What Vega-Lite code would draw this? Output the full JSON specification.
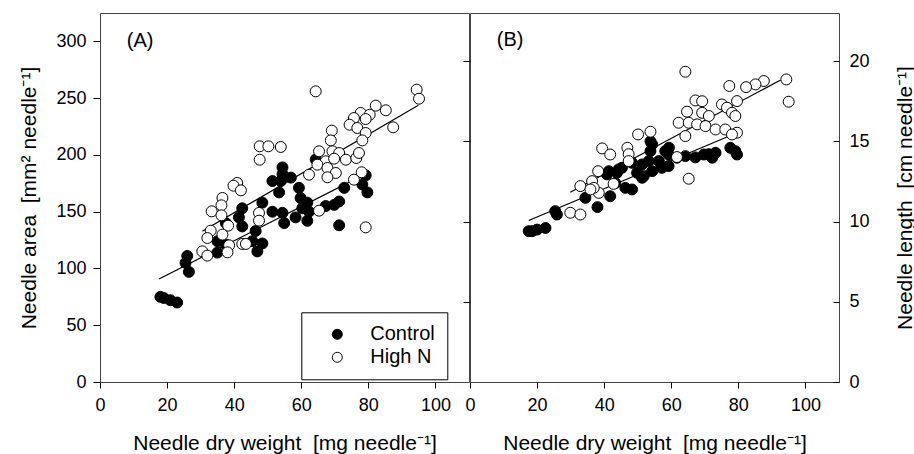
{
  "$schema": "https://vega.github.io/schema/vega-lite/v6.json",
  "bounds": "flush",
  "spacing": 1,
  "padding": {"left": 18, "top": 12, "right": 0, "bottom": 0},
  "background": "white",
  "datasets": {
    "pts": [
      {"p":"A","g":"Control","dw":18,"v":75},{"p":"A","g":"Control","dw":19,"v":74},{"p":"A","g":"Control","dw":21,"v":72},{"p":"A","g":"Control","dw":23,"v":70},
      {"p":"A","g":"Control","dw":26,"v":111},{"p":"A","g":"Control","dw":25.5,"v":105},{"p":"A","g":"Control","dw":26.5,"v":97},
      {"p":"A","g":"Control","dw":35,"v":124},{"p":"A","g":"Control","dw":35,"v":114},{"p":"A","g":"Control","dw":37.5,"v":121},{"p":"A","g":"Control","dw":37.5,"v":140},
      {"p":"A","g":"Control","dw":42.4,"v":153},{"p":"A","g":"Control","dw":41.4,"v":145},{"p":"A","g":"Control","dw":42.4,"v":137},
      {"p":"A","g":"Control","dw":48.4,"v":158},{"p":"A","g":"Control","dw":46.4,"v":133},{"p":"A","g":"Control","dw":45.4,"v":124},{"p":"A","g":"Control","dw":48.4,"v":122},{"p":"A","g":"Control","dw":46.9,"v":115},
      {"p":"A","g":"Control","dw":54.4,"v":189},{"p":"A","g":"Control","dw":54.4,"v":183},{"p":"A","g":"Control","dw":51.4,"v":177},{"p":"A","g":"Control","dw":53.9,"v":177},{"p":"A","g":"Control","dw":56.9,"v":180},{"p":"A","g":"Control","dw":53.4,"v":167},
      {"p":"A","g":"Control","dw":51.4,"v":150},{"p":"A","g":"Control","dw":54.4,"v":149},{"p":"A","g":"Control","dw":54.9,"v":140},{"p":"A","g":"Control","dw":58.3,"v":145},
      {"p":"A","g":"Control","dw":59.3,"v":171},{"p":"A","g":"Control","dw":59.8,"v":162},{"p":"A","g":"Control","dw":61.8,"v":158},{"p":"A","g":"Control","dw":60.3,"v":153},{"p":"A","g":"Control","dw":62.3,"v":150},{"p":"A","g":"Control","dw":61.8,"v":142},
      {"p":"A","g":"Control","dw":67.3,"v":155},{"p":"A","g":"Control","dw":69.8,"v":156},{"p":"A","g":"Control","dw":71.3,"v":159},{"p":"A","g":"Control","dw":72.8,"v":171},{"p":"A","g":"Control","dw":71.3,"v":138},
      {"p":"A","g":"Control","dw":79.2,"v":182},{"p":"A","g":"Control","dw":78.2,"v":174},{"p":"A","g":"Control","dw":79.7,"v":167},{"p":"A","g":"Control","dw":64.3,"v":196},
      {"p":"B","g":"Control","dw":17.5,"v":9.4},{"p":"B","g":"Control","dw":18.5,"v":9.4},{"p":"B","g":"Control","dw":20,"v":9.5},{"p":"B","g":"Control","dw":22.5,"v":9.6},
      {"p":"B","g":"Control","dw":25.4,"v":10.65},{"p":"B","g":"Control","dw":25.9,"v":10.44},
      {"p":"B","g":"Control","dw":34.4,"v":11.48},{"p":"B","g":"Control","dw":38,"v":10.9},
      {"p":"B","g":"Control","dw":41.8,"v":11.58},{"p":"B","g":"Control","dw":46.3,"v":12.1},{"p":"B","g":"Control","dw":48.3,"v":12},{"p":"B","g":"Control","dw":43.3,"v":12.4},
      {"p":"B","g":"Control","dw":40.8,"v":12.94},{"p":"B","g":"Control","dw":43.8,"v":13.04},{"p":"B","g":"Control","dw":45.3,"v":13.35},{"p":"B","g":"Control","dw":41.4,"v":13.14},{"p":"B","g":"Control","dw":44.3,"v":13.25},
      {"p":"B","g":"Control","dw":48.3,"v":13.66},{"p":"B","g":"Control","dw":51.3,"v":13.56},{"p":"B","g":"Control","dw":53.3,"v":13.77},{"p":"B","g":"Control","dw":54.3,"v":14.81},{"p":"B","g":"Control","dw":53.8,"v":14.39},{"p":"B","g":"Control","dw":53.8,"v":15.0},
      {"p":"B","g":"Control","dw":51.3,"v":12.73},{"p":"B","g":"Control","dw":54.3,"v":13.14},{"p":"B","g":"Control","dw":56.3,"v":13.77},{"p":"B","g":"Control","dw":58.2,"v":14.39},{"p":"B","g":"Control","dw":59.2,"v":14.18},{"p":"B","g":"Control","dw":59.3,"v":14.6},
      {"p":"B","g":"Control","dw":57.2,"v":13.35},{"p":"B","g":"Control","dw":59.2,"v":13.46},{"p":"B","g":"Control","dw":61.7,"v":13.98},{"p":"B","g":"Control","dw":49.8,"v":13.04},{"p":"B","g":"Control","dw":51.8,"v":12.83},
      {"p":"B","g":"Control","dw":64.2,"v":14.08},{"p":"B","g":"Control","dw":67.2,"v":14.0},{"p":"B","g":"Control","dw":69.7,"v":14.18},{"p":"B","g":"Control","dw":72.2,"v":13.98},{"p":"B","g":"Control","dw":73.2,"v":14.29},{"p":"B","g":"Control","dw":71.2,"v":14.2},
      {"p":"B","g":"Control","dw":77.6,"v":14.6},{"p":"B","g":"Control","dw":79.1,"v":14.39},{"p":"B","g":"Control","dw":79.6,"v":14.18},
      {"p":"A","g":"High N","dw":64.3,"v":256},{"p":"A","g":"High N","dw":94.4,"v":257.5},{"p":"A","g":"High N","dw":95.1,"v":249.5},{"p":"A","g":"High N","dw":82.2,"v":243.4},{"p":"A","g":"High N","dw":85.2,"v":239.3},
      {"p":"A","g":"High N","dw":77.7,"v":237},{"p":"A","g":"High N","dw":80.4,"v":235.4},{"p":"A","g":"High N","dw":79.2,"v":231.6},{"p":"A","g":"High N","dw":75.7,"v":232.5},{"p":"A","g":"High N","dw":74.4,"v":226.6},
      {"p":"A","g":"High N","dw":76.7,"v":223.7},{"p":"A","g":"High N","dw":79.2,"v":219.3},{"p":"A","g":"High N","dw":87.4,"v":224.3},{"p":"A","g":"High N","dw":78.2,"v":212.8},{"p":"A","g":"High N","dw":69.1,"v":221.4},
      {"p":"A","g":"High N","dw":68.8,"v":212.8},{"p":"A","g":"High N","dw":69.3,"v":203.2},{"p":"A","g":"High N","dw":65.3,"v":203.2},{"p":"A","g":"High N","dw":67.3,"v":194.4},{"p":"A","g":"High N","dw":71.3,"v":201.7},
      {"p":"A","g":"High N","dw":73.3,"v":195.8},{"p":"A","g":"High N","dw":76.4,"v":197.3},{"p":"A","g":"High N","dw":77.2,"v":201.7},{"p":"A","g":"High N","dw":69.8,"v":196.7},{"p":"A","g":"High N","dw":64.8,"v":191.4},
      {"p":"A","g":"High N","dw":67.8,"v":188.5},{"p":"A","g":"High N","dw":62.3,"v":182.6},{"p":"A","g":"High N","dw":70.3,"v":184.1},{"p":"A","g":"High N","dw":67.8,"v":180.3},{"p":"A","g":"High N","dw":78,"v":184.7},
      {"p":"A","g":"High N","dw":75.7,"v":178.2},{"p":"A","g":"High N","dw":47.6,"v":207.6},{"p":"A","g":"High N","dw":50.2,"v":207.6},{"p":"A","g":"High N","dw":53.9,"v":207},{"p":"A","g":"High N","dw":47.6,"v":195.8},
      {"p":"A","g":"High N","dw":40.9,"v":175.3},{"p":"A","g":"High N","dw":39.8,"v":172.9},{"p":"A","g":"High N","dw":42,"v":168.8},{"p":"A","g":"High N","dw":36.5,"v":162.1},{"p":"A","g":"High N","dw":36.2,"v":155.6},
      {"p":"A","g":"High N","dw":33.3,"v":150.3},{"p":"A","g":"High N","dw":36.2,"v":146.8},{"p":"A","g":"High N","dw":38.2,"v":137.7},{"p":"A","g":"High N","dw":33,"v":133.3},{"p":"A","g":"High N","dw":36.5,"v":129.8},
      {"p":"A","g":"High N","dw":32,"v":126.8},{"p":"A","g":"High N","dw":30.5,"v":115.1},{"p":"A","g":"High N","dw":32,"v":111.3},{"p":"A","g":"High N","dw":38.5,"v":120.4},{"p":"A","g":"High N","dw":38,"v":114.2},
      {"p":"A","g":"High N","dw":42.4,"v":121.6},{"p":"A","g":"High N","dw":43.5,"v":121.6},{"p":"A","g":"High N","dw":47.4,"v":148.9},{"p":"A","g":"High N","dw":47.4,"v":142.1},{"p":"A","g":"High N","dw":65.3,"v":150.9},
      {"p":"A","g":"High N","dw":79.2,"v":136.2},
      {"p":"B","g":"High N","dw":64.2,"v":19.34},{"p":"B","g":"High N","dw":94.3,"v":18.86},{"p":"B","g":"High N","dw":95,"v":17.47},{"p":"B","g":"High N","dw":87.6,"v":18.76},{"p":"B","g":"High N","dw":85.1,"v":18.55},
      {"p":"B","g":"High N","dw":82.3,"v":18.38},{"p":"B","g":"High N","dw":77.3,"v":18.45},{"p":"B","g":"High N","dw":79.6,"v":17.51},{"p":"B","g":"High N","dw":75.1,"v":17.3},{"p":"B","g":"High N","dw":76.6,"v":17.1},
      {"p":"B","g":"High N","dw":78.1,"v":16.78},{"p":"B","g":"High N","dw":79.1,"v":16.58},{"p":"B","g":"High N","dw":67.2,"v":17.55},{"p":"B","g":"High N","dw":69.2,"v":17.5},{"p":"B","g":"High N","dw":64.7,"v":16.85},
      {"p":"B","g":"High N","dw":69.2,"v":16.78},{"p":"B","g":"High N","dw":71.2,"v":16.58},{"p":"B","g":"High N","dw":62.2,"v":16.16},{"p":"B","g":"High N","dw":65.2,"v":16.16},{"p":"B","g":"High N","dw":67.7,"v":16.06},
      {"p":"B","g":"High N","dw":64.2,"v":15.33},{"p":"B","g":"High N","dw":70.2,"v":15.95},{"p":"B","g":"High N","dw":73.2,"v":15.74},{"p":"B","g":"High N","dw":76.1,"v":15.74},{"p":"B","g":"High N","dw":79.6,"v":15.54},
      {"p":"B","g":"High N","dw":78.1,"v":15.43},{"p":"B","g":"High N","dw":53.8,"v":15.6},{"p":"B","g":"High N","dw":50.1,"v":15.43},{"p":"B","g":"High N","dw":46.9,"v":14.6},{"p":"B","g":"High N","dw":39.4,"v":14.56},
      {"p":"B","g":"High N","dw":41.8,"v":14.18},{"p":"B","g":"High N","dw":47.3,"v":14.2},{"p":"B","g":"High N","dw":47.3,"v":13.77},{"p":"B","g":"High N","dw":61.7,"v":14.02},{"p":"B","g":"High N","dw":65.2,"v":12.67},
      {"p":"B","g":"High N","dw":38.2,"v":13.14},{"p":"B","g":"High N","dw":36.4,"v":12.52},{"p":"B","g":"High N","dw":32.9,"v":12.21},{"p":"B","g":"High N","dw":38.4,"v":11.79},{"p":"B","g":"High N","dw":42.8,"v":12.35},
      {"p":"B","g":"High N","dw":29.9,"v":10.55},{"p":"B","g":"High N","dw":32.9,"v":10.44},{"p":"B","g":"High N","dw":36.9,"v":12.1},{"p":"B","g":"High N","dw":35.9,"v":12.0}
    ],
    "fits": [
      {"p":"A","g":"Control","dw":17.6,"v":90.7},{"p":"A","g":"Control","dw":77.7,"v":181.1},
      {"p":"A","g":"High N","dw":30.5,"v":132.7},{"p":"A","g":"High N","dw":94.9,"v":243.7},
      {"p":"B","g":"Control","dw":17.5,"v":10.07},{"p":"B","g":"Control","dw":77.3,"v":15.33},
      {"p":"B","g":"High N","dw":29.9,"v":11.83},{"p":"B","g":"High N","dw":92.6,"v":18.82}
    ],
    "tags": [
      {"p":"A","t":"(A)","dw":8,"v":300},
      {"p":"B","t":"(B)","dw":8,"v":21.3}
    ]
  },
  "hconcat": [
    {
      "width": 369,
      "height": 369,
      "layer": [
        {
          "data": {"name": "fits"},
          "transform": [{"filter": "datum.p === 'A'"}],
          "mark": {"type": "line", "color": "black", "strokeWidth": 1.2},
          "encoding": {
            "x": {"field": "dw", "type": "quantitative", "title": "Needle dry weight\u00a0 [mg needle⁻¹]",
                  "scale": {"domain": [0, 110], "nice": false, "zero": false},
                  "axis": {"values": [0, 20, 40, 60, 80, 100], "tickSize": 6, "labelPadding": 8, "titlePadding": 18}},
            "y": {"field": "v", "type": "quantitative", "title": "Needle area\u00a0 [mm² needle⁻¹]",
                  "scale": {"domain": [0, 325], "nice": false, "zero": false},
                  "axis": {"values": [0, 50, 100, 150, 200, 250, 300], "tickSize": 7, "labelPadding": 7, "titlePadding": 16}},
            "detail": {"field": "g"}
          }
        },
        {
          "data": {"name": "pts"},
          "transform": [{"filter": "datum.p === 'A'"}],
          "mark": {"type": "point", "shape": "circle", "filled": true, "stroke": "black", "strokeWidth": 1, "size": 120, "opacity": 1},
          "encoding": {
            "x": {"field": "dw", "type": "quantitative", "title": "Needle dry weight\u00a0 [mg needle⁻¹]", "scale": {"domain": [0, 110], "nice": false, "zero": false}},
            "y": {"field": "v", "type": "quantitative", "title": "Needle area\u00a0 [mm² needle⁻¹]", "scale": {"domain": [0, 325], "nice": false, "zero": false}},
            "fill": {"field": "g", "type": "nominal",
                     "scale": {"domain": ["Control", "High N"], "range": ["#000000", "#ffffff"]},
                     "legend": {"orient": "none", "legendX": 201.3, "legendY": 299.3, "title": null,
                                "strokeColor": "black", "fillColor": "white", "padding": 12,
                                "symbolOffset": 14, "labelOffset": 23, "labelFontSize": 20, "labelFont": "Liberation Sans",
                                "labelColor": "black", "symbolSize": 100, "symbolStrokeColor": "black", "symbolStrokeWidth": 1,
                                "symbolType": "circle", "rowPadding": 3, "labelExpr": "datum.label + '    '"}}
          }
        },
        {
          "data": {"name": "tags"},
          "transform": [{"filter": "datum.p === 'A'"}],
          "mark": {"type": "text", "align": "left", "baseline": "middle", "fontSize": 20, "font": "Liberation Sans", "color": "black"},
          "encoding": {
            "x": {"field": "dw", "type": "quantitative", "title": "Needle dry weight\u00a0 [mg needle⁻¹]", "scale": {"domain": [0, 110], "nice": false, "zero": false}},
            "y": {"field": "v", "type": "quantitative", "title": "Needle area\u00a0 [mm² needle⁻¹]", "scale": {"domain": [0, 325], "nice": false, "zero": false}},
            "text": {"field": "t"}
          }
        }
      ]
    },
    {
      "width": 369,
      "height": 369,
      "resolve": {"axis": {"y": "independent"}},
      "layer": [
        {
          "data": {"name": "fits"},
          "transform": [{"filter": "datum.p === 'B'"}],
          "mark": {"type": "line", "color": "black", "strokeWidth": 1.2},
          "encoding": {
            "x": {"field": "dw", "type": "quantitative", "title": "Needle dry weight\u00a0 [mg needle⁻¹]",
                  "scale": {"domain": [0, 110], "nice": false, "zero": false},
                  "axis": {"values": [0, 20, 40, 60, 80, 100], "tickSize": 6, "labelPadding": 8, "titlePadding": 18}},
            "y": {"field": "v", "type": "quantitative",
                  "scale": {"domain": [0, 23], "nice": false, "zero": false},
                  "axis": {"orient": "left", "values": [5, 10, 15, 20], "labels": false, "title": null, "tickSize": 7}},
            "detail": {"field": "g"}
          }
        },
        {
          "data": {"name": "pts"},
          "transform": [{"filter": "datum.p === 'B'"}],
          "mark": {"type": "point", "shape": "circle", "filled": true, "stroke": "black", "strokeWidth": 1, "size": 120, "opacity": 1},
          "encoding": {
            "x": {"field": "dw", "type": "quantitative", "title": "Needle dry weight\u00a0 [mg needle⁻¹]", "scale": {"domain": [0, 110], "nice": false, "zero": false}},
            "y": {"field": "v", "type": "quantitative", "title": "Needle length\u00a0 [cm needle⁻¹]",
                  "scale": {"domain": [0, 23], "nice": false, "zero": false},
                  "axis": {"orient": "right", "values": [0, 5, 10, 15, 20], "offset": -6, "tickSize": 6, "labelPadding": 10,
                           "titlePadding": 25, "titleAngle": 270, "titleBaseline": "top"}},
            "fill": {"field": "g", "type": "nominal",
                     "scale": {"domain": ["Control", "High N"], "range": ["#000000", "#ffffff"]},
                     "legend": null}
          }
        },
        {
          "data": {"name": "tags"},
          "transform": [{"filter": "datum.p === 'B'"}],
          "mark": {"type": "text", "align": "left", "baseline": "middle", "fontSize": 20, "font": "Liberation Sans", "color": "black"},
          "encoding": {
            "x": {"field": "dw", "type": "quantitative", "title": "Needle dry weight\u00a0 [mg needle⁻¹]", "scale": {"domain": [0, 110], "nice": false, "zero": false}},
            "y": {"field": "v", "type": "quantitative", "scale": {"domain": [0, 23], "nice": false, "zero": false}, "axis": null},
            "text": {"field": "t"}
          }
        }
      ]
    }
  ],
  "resolve": {"scale": {"fill": "independent"}, "legend": {"fill": "independent"}},
  "config": {
    "view": {"stroke": "#444444", "strokeWidth": 1},
    "font": "Liberation Sans",
    "axis": {"grid": false, "domain": false, "labelFont": "Liberation Sans", "labelFontSize": 18, "labelColor": "#000000",
             "titleFont": "Liberation Sans", "titleFontSize": 21, "titleFontWeight": "normal", "titleColor": "#000000",
             "tickColor": "#000000", "tickWidth": 1, "labelFlush": false, "labelOverlap": false}
  }
}
